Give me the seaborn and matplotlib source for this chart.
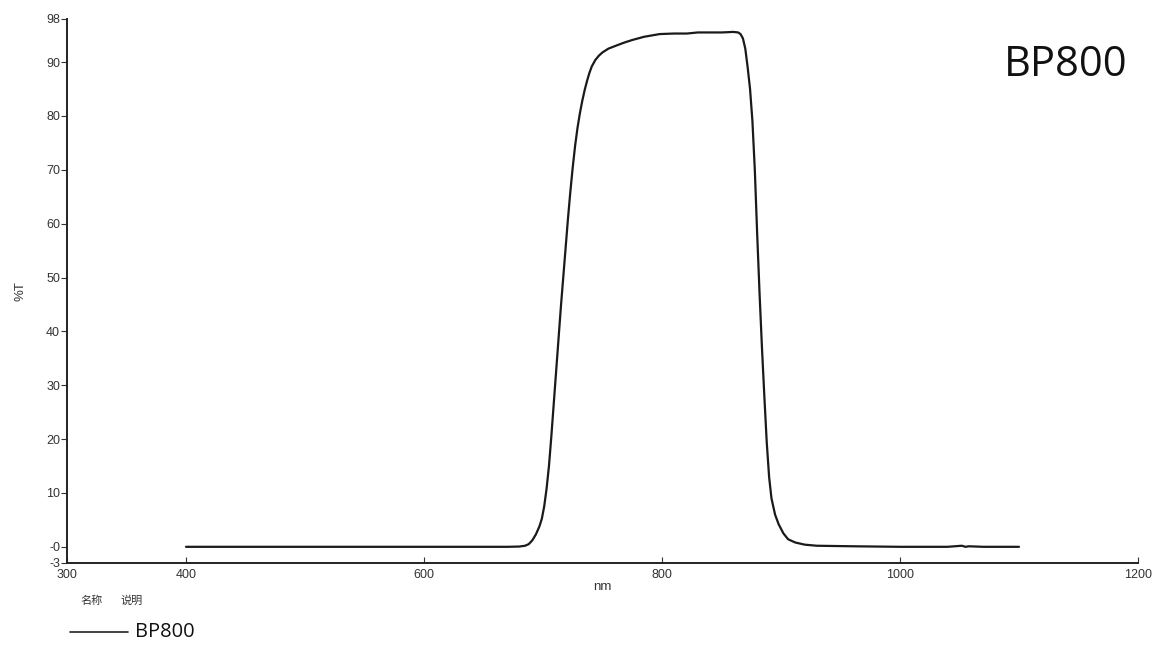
import matplotlib
matplotlib.use('Agg')
import matplotlib.pyplot as plt
import seaborn as sns
import pandas as pd

wavelength = [400, 500, 600, 670, 680, 685, 688, 691, 694, 697, 699, 701, 703, 705, 707, 709,
              711, 713, 715, 717, 719, 721, 723, 725, 727, 729, 731, 733, 735, 737, 739, 741,
              744, 747, 750, 755, 762, 768, 775, 785, 798, 810, 821, 830, 840, 850, 860, 864,
              866, 868, 870, 872, 874, 876, 878, 880, 882, 884, 886, 888, 890, 892, 895, 898,
              902, 906, 912, 920, 930, 960, 1000, 1040, 1052, 1055, 1058, 1070, 1100]
transmission = [0.0, 0.0, 0.0, 0.0, 0.05, 0.2, 0.5, 1.2, 2.3, 3.8, 5.2, 7.5, 10.8, 15.0, 20.5, 26.5,
                32.5, 38.5, 44.5, 50.0, 55.5, 61.0, 66.0, 70.5, 74.5, 77.8, 80.5, 82.8, 84.8, 86.5, 88.0, 89.2,
                90.4, 91.2, 91.8, 92.5, 93.1, 93.6, 94.1, 94.7, 95.2, 95.3, 95.3, 95.5, 95.5, 95.5, 95.6, 95.5,
                95.2, 94.4, 92.5, 89.0, 85.0, 79.0, 70.0, 58.0, 47.0, 37.0, 28.0, 19.5, 13.0, 9.0, 6.0, 4.2,
                2.5, 1.4, 0.8, 0.4, 0.2, 0.1, 0.0, 0.0, 0.2, 0.0, 0.1, 0.0, 0.0]
df = pd.DataFrame({'nm': wavelength, 'T': transmission})

x_ticks = [300, 400, 600, 800, 1000, 1200]
y_ticks = [98, 90, 80, 70, 60, 50, 40, 30, 20, 10, 0, -3]
y_labels = ['98', '90', '80', '70', '60', '50', '40', '30', '20', '10', '-0', '-3']

sns.set_style('ticks')
plt.rcParams['font.family'] = ['Liberation Sans', 'DejaVu Sans']

fig = plt.figure(figsize=(11.6, 6.55), dpi=100)
ax = fig.add_axes([0.0578, 0.1405, 0.9232, 0.8305])
sns.lineplot(data=df, x='nm', y='T', color='#1a1a1a', linewidth=1.6, ax=ax)

ax.set_xlim(300, 1200)
ax.set_ylim(-3, 98)
ax.set_xticks(x_ticks)
ax.set_yticks(y_ticks)
ax.set_yticklabels(y_labels)
ax.tick_params(axis='x', direction='in', length=4, labelsize=9, colors='#333333', pad=4)
ax.tick_params(axis='y', direction='out', length=4, labelsize=9, colors='#333333', pad=1)
ax.set_xlabel('nm', fontsize=9.5, color='#333333', labelpad=0)
ax.set_ylabel('%T', fontsize=9.5, color='#333333', labelpad=14)
for s in ['top', 'right']:
    ax.spines[s].set_visible(False)
for s in ['left', 'bottom']:
    ax.spines[s].set_color('#222222')
    ax.spines[s].set_linewidth(1.4)

# Titel rechts oben
fig.text(0.972, 0.9, 'BP800', fontsize=30, family=['Open Sans', 'DejaVu Sans'],
         ha='right', va='center', color='#111111')

# Legende unten links
fig.text(0.069, 0.083, '名称', fontsize=8, family=['Noto Sans CJK SC', 'DejaVu Sans'],
         ha='left', va='center', color='#333333')
fig.text(0.104, 0.083, '说明', fontsize=8, family=['Noto Sans CJK SC', 'DejaVu Sans'],
         ha='left', va='center', color='#333333')
fig.add_artist(plt.Line2D([0.06, 0.11], [0.035, 0.035], color='#222222', linewidth=1.2))
fig.text(0.116, 0.035, 'BP800', fontsize=14.5, family=['Open Sans', 'DejaVu Sans'],
         ha='left', va='center', color='#111111')

fig.savefig('out.png', dpi=100)
